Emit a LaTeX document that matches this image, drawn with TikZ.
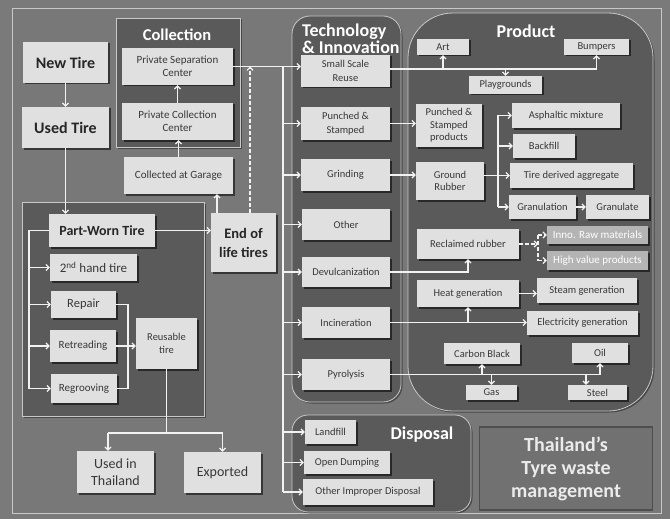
\documentclass[tikz,border=0pt]{standalone}
\usepackage{fontspec}
\setmainfont{Carlito}
\usetikzlibrary{arrows.meta,shadows}
\definecolor{bgc}{HTML}{7A7A7A}
\definecolor{framebg}{HTML}{787878}
\definecolor{panel}{HTML}{5A5A5A}
\definecolor{boxc}{HTML}{E0E0E0}
\definecolor{txtc}{HTML}{383838}
\definecolor{linec}{HTML}{F2F2F2}
\definecolor{framec}{HTML}{C8C8C8}
\definecolor{innoc}{HTML}{B4B4B4}
\definecolor{thaic}{HTML}{717171}
\definecolor{thaiborder}{HTML}{4E4E4E}
\tikzset{
  box/.style={fill=boxc, text=txtc, align=center, inner sep=1pt,
    font=\fontsize{10.5}{12.5}\selectfont,
    drop shadow={shadow xshift=1.5pt, shadow yshift=-1.5pt, opacity=0.55, fill=black}},
  bigbox/.style={font=\bfseries\fontsize{16}{18}\selectfont, text=black!85},
  midbold/.style={font=\bfseries\fontsize{14.5}{19}\selectfont, text=black!85},
  fourteen/.style={font=\fontsize{14}{17}\selectfont},
  eleven/.style={font=\fontsize{11}{13}\selectfont},
  twelve/.style={font=\fontsize{12.5}{14}\selectfont},
  innobox/.style={fill=innoc, text=white, font=\fontsize{11}{12}\selectfont},
  panelbox/.style={fill=panel, draw=framec, line width=0.8pt,
    drop shadow={shadow xshift=1.5pt, shadow yshift=-1.5pt, opacity=0.4, fill=black}},
  ttl/.style={text=white, font=\bfseries\fontsize{18}{17}\selectfont, inner sep=0pt},
  conn/.style={draw=linec, line width=1.2pt},
  arr/.style={conn, -{Straight Barb[length=3pt,width=6pt]}},
  dconn/.style={conn, dash pattern=on 3.5pt off 2.5pt},
  darr/.style={dconn, -{Straight Barb[length=3pt,width=6pt]}},
}
\newcommand\bx[7][]{\node[box,minimum width={(#5-#3)*1pt},minimum height={(#6-#4)*1pt},#1] (#2) at ({(#3+#5)/2},{(#4+#6)/2}) {#7};}
\begin{document}
\begin{tikzpicture}[x=1pt,y=-1pt]
\useasboundingbox (0,0) rectangle (670,519);
\fill[bgc] (0,0) rectangle (670,519);
\draw[framec, line width=1pt, fill=framebg] (12,9) rectangle (661,513);

% panels
\path[panelbox] (116,18) rectangle (240,147);
\path[panelbox] (22,202) rectangle (204,416);
\path[panelbox, rounded corners=18pt] (292,16) rectangle (401,402);
\path[panelbox, rounded corners=45pt] (408,13) rectangle (653,411);
\path[panelbox, rounded corners=16pt] (292,415) rectangle (471,512);
\node[draw=thaiborder, line width=1.5pt, fill=thaic, minimum width=173pt, minimum height=83pt, inner sep=0pt,
  text=white!92!black, font=\bfseries\fontsize{20}{23}\selectfont, align=center] (thai) at (566,468.5)
  {Thailand’s\\Tyre waste\\management};

% titles
\node[ttl, font=\bfseries\fontsize{16.5}{17}\selectfont] (tcol) at (177,35) {Collection};
\node[ttl, anchor=west, align=left] (ttech) at (302,39) {Technology\\\& Innovation};
\node[ttl] (tprod) at (526,31) {Product};
\node[ttl] (tdisp) at (422,435) {Disposal};

% left side
\bx[bigbox]{newt}{23}{42}{108}{83}{New Tire}
\bx[bigbox]{used}{22}{107}{109}{148}{Used Tire}
\bx[eleven]{psc}{122}{48}{233}{85}{Private Separation\\Center}
\bx[eleven]{pcc}{122}{103}{233}{140}{Private Collection\\Center}
\bx[eleven]{cag}{124}{157}{233}{194}{Collected at Garage}
\bx[font=\bfseries\fontsize{14}{16}\selectfont, text=black!85]{pwt}{49}{214}{155}{247}{Part-Worn Tire}
\bx[font=\fontsize{13}{14}\selectfont]{sh}{50}{254}{137}{281}{2\textsuperscript{nd} hand tire}
\bx[twelve]{rep}{51}{291}{116}{318}{Repair}
\bx[eleven]{ret}{50}{330}{116}{362}{Retreading}
\bx[eleven]{rgr}{51}{374}{117}{403}{Regrooving}
\bx[font=\fontsize{10.5}{13}\selectfont]{reu}{136}{318}{197}{369}{Reusable\\tire}
\bx[fourteen]{uit}{77}{451}{154}{493}{Used in\\Thailand}
\bx[fourteen]{expo}{184}{452}{261}{493}{Exported}
\bx[midbold]{eol}{211}{213}{276}{272}{End of\\life tires}

% technology
\bx[font=\fontsize{10.5}{14}\selectfont]{ssr}{301}{55}{390}{87}{Small Scale\\Reuse}
\bx[font=\fontsize{10.5}{14}\selectfont]{pst}{301}{107}{390}{140}{Punched \&\\Stamped}
\bx{grd}{301}{159}{390}{191}{Grinding}
\bx{oth}{302}{209}{390}{240}{Other}
\bx{dev}{302}{257}{390}{287}{Devulcanization}
\bx{inc}{302}{307}{390}{338}{Incineration}
\bx{pyr}{302}{359}{390}{390}{Pyrolysis}

% product
\bx{art}{417}{39}{469}{55}{Art}
\bx{bmp}{564}{39}{629}{55}{Bumpers}
\bx{pg}{469}{76}{542}{94}{Playgrounds}
\bx{psp}{416}{104}{482}{147}{Punched \&\\Stamped\\products}
\bx{asp}{512}{103}{620}{128}{Asphaltic mixture}
\bx{bf}{513}{134}{575}{158}{Backfill}
\bx{tda}{510}{163}{633}{188}{Tire derived aggregate}
\bx{gr}{416}{162}{484}{200}{Ground\\Rubber}
\bx{gran}{509}{195}{576}{219}{Granulation}
\bx{glt}{586}{195}{649}{219}{Granulate}
\bx{rr}{417}{229}{519}{259}{Reclaimed rubber}
\bx[innobox]{inno}{547}{226}{648}{244}{Inno. Raw materials}
\bx[innobox]{hv}{547}{251}{648}{270}{High value products}
\bx{heat}{417}{280}{519}{307}{Heat generation}
\bx{steam}{537}{278}{637}{303}{Steam generation}
\bx{elec}{527}{311}{638}{335}{Electricity generation}
\bx{cb}{444}{343}{520}{364}{Carbon Black}
\bx{oil}{572}{343}{628}{363}{Oil}
\bx{gas}{466}{385}{517}{400}{Gas}
\bx{stl}{568}{385}{627}{400}{Steel}

% disposal
\bx{lf}{305}{420}{356}{444}{Landfill}
\bx{od}{304}{451}{390}{474}{Open Dumping}
\bx{oid}{303}{479}{433}{505}{Other Improper Disposal}

% helper coordinates
\coordinate (tr) at (283,0);
\coordinate (pl) at (29,0);
\coordinate (rj) at (128,0);
\coordinate (rb) at (0,433);
\coordinate (g1) at (217,0);
\coordinate (g2) at (250,0);
\coordinate (gx) at (498,0);
\coordinate (dx) at (538,0);
\coordinate (sx) at (586,0);
\coordinate (ux) at (108,0);

% left connectors
\draw[arr] (newt.south) -- (used.north);
\draw[arr] (used.south) -- (used.south |- pwt.north);
\draw[conn] (pwt.west) -| (pl |- rgr.west);
\foreach \n in {sh,rep,ret,rgr} \draw[arr] (pl |- \n.west) -- (\n.west);
\draw[arr] (pwt.east) -- (pwt.east -| eol.west);
\draw[conn] (rep.east) -| (rj |- rgr.east) -- (rgr.east);
\draw[arr] (ret.east) -- (ret.east -| reu.west);
\draw[conn] (reu.south) -- (reu.south |- rb);
\draw[conn] (ux |- rb) -- (expo.north |- rb);
\draw[arr] (ux |- rb) -- (ux |- uit.north);
\draw[arr] (expo.north |- rb) -- (expo.north);
\draw[arr] (g1 |- eol.north) -- (g1 |- cag.south);
\draw[arr] (cag.north) -- (cag.north |- pcc.south);
\draw[arr] (pcc.north) -- (psc.south);

% trunk
\draw[conn] (psc.east) -- (tr |- psc.east) -- (tr |- oid.west);
\draw[arr] (tr |- psc.east) -- (psc.east -| ssr.west);
\foreach \n in {pst,grd,oth,dev,inc,pyr,lf,od,oid} \draw[arr] (tr |- \n.west) -- (\n.west);
\draw[darr] (g2 |- eol.north) -- (g2 |- psc.east);

% product connectors
\draw[conn] ([yshift=2pt]ssr.east) -- ([yshift=2pt]ssr.east -| bmp.south);
\draw[arr] ([yshift=2pt]ssr.east -| art.south) -- (art.south);
\draw[arr] ([yshift=2pt]ssr.east -| bmp.south) -- (bmp.south);
\draw[arr] ([yshift=2pt]ssr.east -| pg.north) -- (pg.north);
\draw[arr] (pst.east) -- (pst.east -| psp.west);
\draw[arr] (grd.east) -- (grd.east -| gr.west);
\draw[arr] (gr.east |- tda.west) -- (tda.west);
\draw[conn] (gx |- asp.west) -- (gx |- gran.west);
\foreach \n in {asp,bf,gran} \draw[arr] (gx |- \n.west) -- (\n.west);
\draw[arr] (gran.east) -- (glt.west);
\draw[arr] (dev.east) -| (rr.south);
\draw[darr] (rr.east) -- (dx |- rr.east);
\draw[dconn] (dx |- inno.west) -- (dx |- hv.west);
\draw[darr] (dx |- inno.west) -- (inno.west);
\draw[darr] (dx |- hv.west) -- (hv.west);
\draw[arr] (heat.east) -- (heat.east -| steam.west);
\draw[arr] (inc.east) -- (inc.east -| elec.west);
\draw[arr] (inc.east -| heat.south) -- (heat.south);
\draw[conn] (pyr.east) -- (pyr.east -| oil.south);
\draw[arr] (pyr.east -| oil.south) -- (oil.south);
\draw[arr] (pyr.east -| cb.south) -- (cb.south);
\draw[arr] (pyr.east -| gas.north) -- (gas.north);
\draw[arr] (pyr.east -| sx) -- (sx |- stl.north);
\end{tikzpicture}
\end{document}
